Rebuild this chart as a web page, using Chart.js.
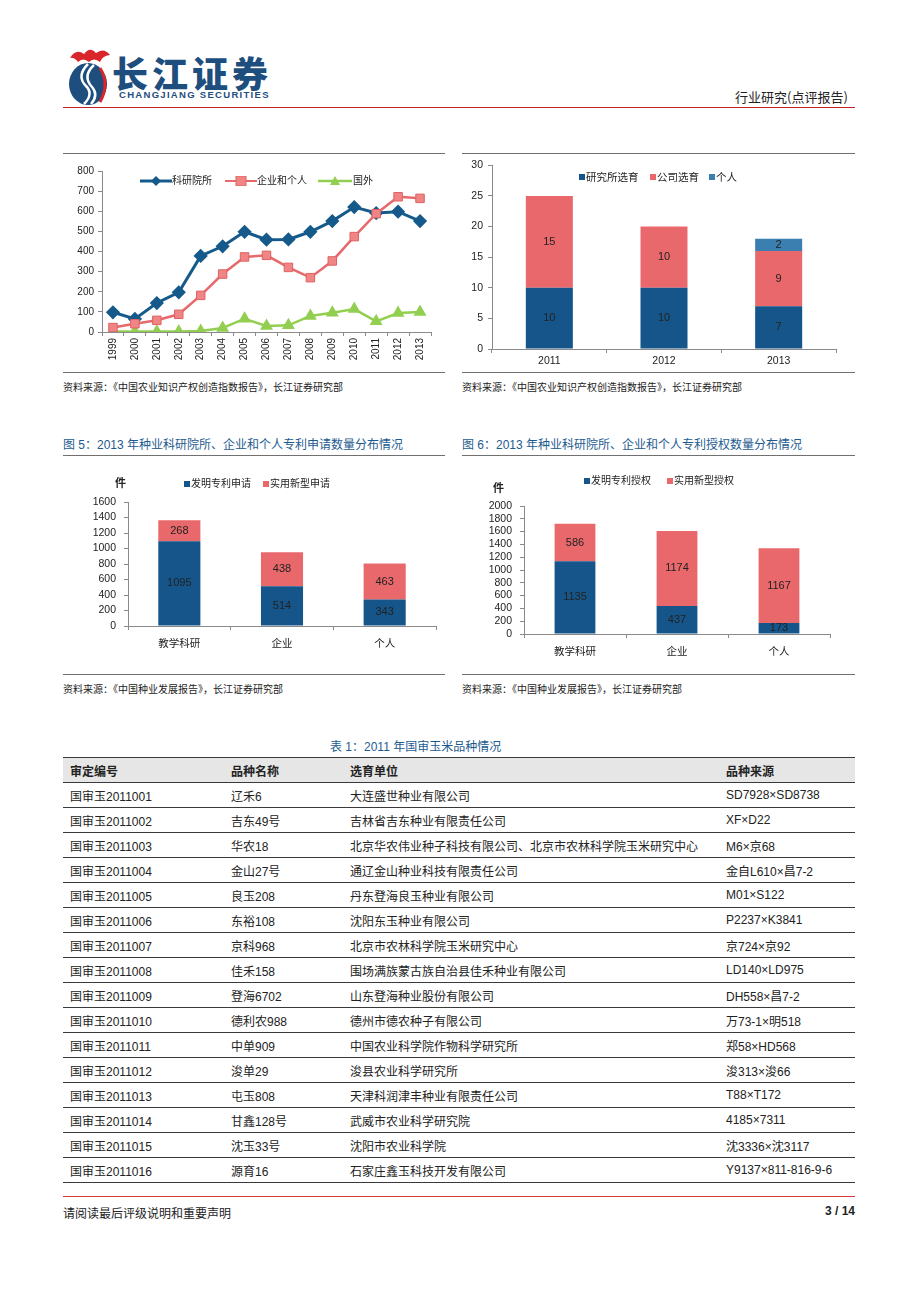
<!DOCTYPE html>
<html><head><meta charset="utf-8">
<script src="https://cdn.jsdelivr.net/npm/chart.js@4.4.0/dist/chart.umd.min.js"></script>
<style>
body{margin:0;width:920px;height:1302px;background:#fff;position:relative;overflow:hidden;font-family:"Liberation Sans","Noto Sans CJK SC",sans-serif;color:#222}
.abs{position:absolute;white-space:nowrap}
.rule{position:absolute;height:0;border-top:1px solid #707070}
.src{position:absolute;font-size:10px;color:#222;white-space:nowrap}
.ttl{position:absolute;font-size:12px;color:#1d5b8f;white-space:nowrap}
.lg{position:absolute;font-size:10px;color:#222;white-space:nowrap;line-height:12px}
.sq{position:absolute;width:6px;height:6px}
.cv{position:absolute}
table{border-collapse:collapse;font-size:12px;color:#222}
td{height:24px;padding:0 0 0 7px;border-bottom:1px solid #3a3a3a;white-space:nowrap}
thead td{background:#e6e6e6;font-weight:bold;border-top:1px solid #3a3a3a}
</style></head>
<body>
<!-- header -->
<svg class="abs" style="left:64px;top:46px" width="50" height="60" viewBox="0 0 50 60">
  <path d="M6 12 Q12 2 20 8 Q26 0 32 7 Q40 1 46 9 Q38 10 36 16 Q30 11 25 16 Q19 11 14 16 Q10 11 6 12Z" fill="#d8262a"/>
  <ellipse cx="24" cy="38" rx="19" ry="21" fill="#1d4e7e"/>
  <path d="M24 18 Q12 30 22 40 Q30 48 20 58" stroke="#fff" stroke-width="2.5" fill="none"/>
  <path d="M30 19 Q18 30 28 41 Q35 49 27 58" stroke="#fff" stroke-width="2.5" fill="none"/>
  <path d="M36 22 Q46 38 36 56" stroke="#d8262a" stroke-width="3" fill="none"/>
</svg>
<div class="abs" style="left:112px;top:54px;font-size:36px;line-height:36px;font-weight:900;color:#1d4e7e;letter-spacing:4px;font-family:'Noto Sans CJK SC'">长江证券</div>
<div class="abs" style="left:119px;top:90px;font-size:9.5px;line-height:10px;font-weight:bold;color:#1d4e7e;letter-spacing:1.3px">CHANGJIANG SECURITIES</div>
<div class="abs" style="left:735px;top:87px;font-size:13px;color:#222;font-family:'Noto Sans CJK SC'">行业研究(点评报告)</div>
<div class="abs" style="left:63px;top:107px;width:792px;height:1px;background:#c41f22"></div>

<!-- top charts frame -->
<div class="rule" style="left:63px;top:153px;width:382px"></div>
<div class="rule" style="left:462px;top:153px;width:393px"></div>
<div class="rule" style="left:63px;top:372px;width:382px"></div>
<div class="rule" style="left:462px;top:372px;width:393px"></div>
<div class="src" style="left:63px;top:379px">资料来源：《中国农业知识产权创造指数报告》，长江证券研究部</div>
<div class="src" style="left:462px;top:379px">资料来源：《中国农业知识产权创造指数报告》，长江证券研究部</div>

<canvas id="c1" class="cv" style="left:63px;top:155px" width="382" height="215"></canvas>
<canvas id="c2" class="cv" style="left:462px;top:155px" width="393" height="215"></canvas>

<!-- chart1 legend -->
<svg class="abs" style="left:140px;top:176px" width="32" height="10"><line x1="0" y1="5" x2="32" y2="5" stroke="#155a8a" stroke-width="3"/><path d="M16 0 L21 5 L16 10 L11 5Z" fill="#155a8a"/></svg>
<div class="lg" style="left:172px;top:175px">科研院所</div>
<svg class="abs" style="left:225px;top:176px" width="32" height="10"><line x1="0" y1="5" x2="32" y2="5" stroke="#e8696b" stroke-width="2"/><rect x="11" y="0" width="10" height="10" fill="#ef8585" stroke="#e06262"/></svg>
<div class="lg" style="left:257px;top:175px">企业和个人</div>
<svg class="abs" style="left:318px;top:176px" width="34" height="10"><line x1="0" y1="5" x2="34" y2="5" stroke="#92cf50" stroke-width="2.5"/><path d="M17 0 L22 9 L12 9Z" fill="#92cf50"/></svg>
<div class="lg" style="left:353px;top:175px">国外</div>

<!-- chart2 legend -->
<div class="sq" style="left:579px;top:174px;background:#15558a"></div>
<div class="lg" style="left:586px;top:171px;font-size:10.5px">研究所选育</div>
<div class="sq" style="left:650px;top:174px;background:#e9686b"></div>
<div class="lg" style="left:657px;top:171px;font-size:10.5px">公司选育</div>
<div class="sq" style="left:709px;top:174px;background:#3b7fb0"></div>
<div class="lg" style="left:716px;top:171px;font-size:10.5px">个人</div>

<!-- middle charts -->
<div class="ttl" style="left:63px;top:435px">图 5：2013 年种业科研院所、企业和个人专利申请数量分布情况</div>
<div class="ttl" style="left:462px;top:435px">图 6：2013 年种业科研院所、企业和个人专利授权数量分布情况</div>
<div class="rule" style="left:63px;top:455px;width:382px"></div>
<div class="rule" style="left:462px;top:455px;width:393px"></div>
<div class="rule" style="left:63px;top:674px;width:382px"></div>
<div class="rule" style="left:462px;top:674px;width:393px"></div>
<div class="src" style="left:63px;top:681px">资料来源：《中国种业发展报告》，长江证券研究部</div>
<div class="src" style="left:462px;top:681px">资料来源：《中国种业发展报告》，长江证券研究部</div>

<canvas id="c3" class="cv" style="left:63px;top:457px" width="382" height="215"></canvas>
<canvas id="c4" class="cv" style="left:462px;top:457px" width="393" height="215"></canvas>

<div class="lg" style="left:115px;top:477px;font-weight:bold;font-size:11px">件</div>
<div class="sq" style="left:184px;top:481px;background:#15558a"></div>
<div class="lg" style="left:191px;top:478px">发明专利申请</div>
<div class="sq" style="left:263px;top:481px;background:#e9686b"></div>
<div class="lg" style="left:270px;top:478px">实用新型申请</div>

<div class="lg" style="left:493px;top:482px;font-weight:bold;font-size:11px">件</div>
<div class="sq" style="left:584px;top:478px;background:#15558a"></div>
<div class="lg" style="left:591px;top:475px">发明专利授权</div>
<div class="sq" style="left:667px;top:478px;background:#e9686b"></div>
<div class="lg" style="left:674px;top:475px">实用新型授权</div>

<!-- table -->
<div class="ttl" style="left:330px;top:737px">表 1：2011 年国审玉米品种情况</div>
<div class="abs" style="left:63px;top:757px;width:792px">
<table id="tbl" style="width:792px"><thead><tr><td style="width:154px">审定编号</td><td style="width:112px">品种名称</td><td style="width:369px">选育单位</td><td>品种来源</td></tr></thead><tbody></tbody></table>
</div>

<!-- footer -->
<div class="abs" style="left:63px;top:1196px;width:792px;height:1px;background:#d23a3a"></div>
<div class="abs" style="left:63px;top:1204px;font-size:12px;font-family:'Noto Sans CJK SC'">请阅读最后评级说明和重要声明</div>
<div class="abs" style="left:800px;top:1204px;width:55px;text-align:right;font-size:12px;font-weight:bold">3 / 14</div>

<script>
// ---------- data ----------
const years1 = ['1999','2000','2001','2002','2003','2004','2005','2006','2007','2008','2009','2010','2011','2012','2013'];
const keyanyuansuo = [98,65,144,197,378,426,498,459,460,498,551,621,591,598,551];
const qiyeGeren    = [22,41,58,88,182,288,373,381,321,270,353,474,588,672,664];
const guowai       = [2,2,2,2,5,20,66,30,33,80,96,114,53,94,99];

const years2 = ['2011','2012','2013'];
const yanjiusuoXuanyu = [10,10,7];
const gongsiXuanyu    = [15,10,9];
const gerenXuanyu     = [null,null,2];

const cats3 = ['教学科研','企业','个人'];
const famingShenqing = [1095,514,343];
const shiyongShenqing = [268,438,463];

const cats4 = ['教学科研','企业','个人'];
const famingShouquan = [1135,437,173];
const shiyongShouquan = [586,1174,1167];

const tblCodes = ['国审玉2011001','国审玉2011002','国审玉2011003','国审玉2011004','国审玉2011005','国审玉2011006','国审玉2011007','国审玉2011008','国审玉2011009','国审玉2011010','国审玉2011011','国审玉2011012','国审玉2011013','国审玉2011014','国审玉2011015','国审玉2011016'];
const tblNames = ['辽禾6','吉东49号','华农18','金山27号','良玉208','东裕108','京科968','佳禾158','登海6702','德利农988','中单909','浚单29','屯玉808','甘鑫128号','沈玉33号','源育16'];
const tblUnits = ['大连盛世种业有限公司','吉林省吉东种业有限责任公司','北京华农伟业种子科技有限公司、北京市农林科学院玉米研究中心','通辽金山种业科技有限责任公司','丹东登海良玉种业有限公司','沈阳东玉种业有限公司','北京市农林科学院玉米研究中心','围场满族蒙古族自治县佳禾种业有限公司','山东登海种业股份有限公司','德州市德农种子有限公司','中国农业科学院作物科学研究所','浚县农业科学研究所','天津科润津丰种业有限责任公司','武威市农业科学研究院','沈阳市农业科学院','石家庄鑫玉科技开发有限公司'];
const tblSources = ['SD7928×SD8738','XF×D22','M6×京68','金自L610×昌7-2','M01×S122','P2237×K3841','京724×京92','LD140×LD975','DH558×昌7-2','万73-1×明518','郑58×HD568','浚313×浚66','T88×T172','4185×7311','沈3336×沈3117','Y9137×811-816-9-6'];

// table
const tb = document.querySelector('#tbl tbody');
tblCodes.forEach((c,i)=>{
  const tr = document.createElement('tr');
  [c, tblNames[i], tblUnits[i], tblSources[i]].forEach(t=>{const td=document.createElement('td');td.textContent=t;tr.appendChild(td);});
  tb.appendChild(tr);
});

// ---------- charts ----------
const FONT = '"Liberation Sans","Noto Sans CJK SC",sans-serif';
Chart.defaults.font.family = FONT;
Chart.defaults.color = '#222';
Chart.defaults.animation = false;

const barLabels = {
  id:'barLabels',
  afterDatasetsDraw(chart, args, opts){
    if(!opts || !opts.show) return;
    const ctx = chart.ctx;
    ctx.save();
    ctx.font = (opts.size||11) + 'px ' + FONT;
    ctx.fillStyle = '#222';
    ctx.textAlign='center'; ctx.textBaseline='middle';
    chart.data.datasets.forEach((ds,i)=>{
      const meta = chart.getDatasetMeta(i);
      meta.data.forEach((el,j)=>{
        const v = ds.data[j];
        if(v==null) return;
        const p = el.getProps(['x','y','base'], true);
        ctx.fillText(String(v), p.x, (p.y+p.base)/2);
      });
    });
    ctx.restore();
  }
};
Chart.register(barLabels);

const AX = '#8a8a8a';
function yScale(max, step, width, pad, size){
  return {min:0,max:max,ticks:{stepSize:step,autoSkip:false,font:{size:size,lineHeight:1},color:'#222',padding:pad,callback:v=>String(v)},
    grid:{drawOnChartArea:false,tickLength:4,color:AX},border:{color:AX},
    afterFit(s){s.width=width;}};
}
function xScale(height, pad, size, stacked){
  return {stacked:!!stacked, offset:true, ticks:{font:{size:size},color:'#222',padding:pad,autoSkip:false,maxRotation:0},
    grid:{drawOnChartArea:false,offset:true,tickLength:4,color:AX},border:{color:AX},
    afterFit(s){s.height=height;}};
}

// chart 1
const x1 = xScale(38, 2, 10);
x1.ticks.minRotation = 90; x1.ticks.maxRotation = 90;
new Chart(document.getElementById('c1'), {
  type:'line',
  data:{labels:years1, datasets:[
    {label:'科研院所', data:keyanyuansuo, borderColor:'#155a8a', backgroundColor:'#155a8a', borderWidth:3,
     pointStyle:'rectRot', pointRadius:5, pointBackgroundColor:'#155a8a', pointBorderColor:'#155a8a', tension:0, order:2},
    {label:'企业和个人', data:qiyeGeren, borderColor:'#e8696b', backgroundColor:'#ef8585', borderWidth:2.5,
     pointStyle:'rect', pointRadius:6, pointBackgroundColor:'#ef8585', pointBorderColor:'#e06262', pointBorderWidth:1, tension:0, order:1},
    {label:'国外', data:guowai, borderColor:'#92cf50', backgroundColor:'#92cf50', borderWidth:2.5,
     pointStyle:'triangle', pointRadius:5, pointBackgroundColor:'#92cf50', pointBorderColor:'#92cf50', tension:0, order:3}
  ]},
  options:{responsive:false, layout:{padding:{top:16,right:14,left:0,bottom:0}},
    plugins:{legend:{display:false},tooltip:{enabled:false}},
    scales:{x:x1, y:yScale(800,100,39,4,10)}}
});

// chart 2
new Chart(document.getElementById('c2'), {
  type:'bar',
  data:{labels:years2, datasets:[
    {label:'研究所选育', data:yanjiusuoXuanyu, backgroundColor:'#15558a'},
    {label:'公司选育', data:gongsiXuanyu, backgroundColor:'#e9686b'},
    {label:'个人', data:gerenXuanyu, backgroundColor:'#3b7fb0'}
  ]},
  options:{responsive:false, layout:{padding:{top:9,right:19,left:0,bottom:0}},
    datasets:{bar:{barPercentage:0.41,categoryPercentage:1}},
    plugins:{legend:{display:false},tooltip:{enabled:false},barLabels:{show:true,size:11}},
    scales:{x:xScale(21,2,10.5,true), y:Object.assign(yScale(30,5,30,5,10.5),{stacked:true})}}
});

// chart 3
new Chart(document.getElementById('c3'), {
  type:'bar',
  data:{labels:cats3, datasets:[
    {label:'发明专利申请', data:famingShenqing, backgroundColor:'#15558a'},
    {label:'实用新型申请', data:shiyongShenqing, backgroundColor:'#e9686b'}
  ]},
  options:{responsive:false, layout:{padding:{top:45,right:9,left:0,bottom:0}},
    datasets:{bar:{barPercentage:0.41,categoryPercentage:1}},
    plugins:{legend:{display:false},tooltip:{enabled:false},barLabels:{show:true,size:11}},
    scales:{x:xScale(46,8,10.5,true), y:Object.assign(yScale(1600,200,65,8,10.5),{stacked:true})}}
});

// chart 4
new Chart(document.getElementById('c4'), {
  type:'bar',
  data:{labels:cats4, datasets:[
    {label:'发明专利授权', data:famingShouquan, backgroundColor:'#15558a'},
    {label:'实用新型授权', data:shiyongShouquan, backgroundColor:'#e9686b'}
  ]},
  options:{responsive:false, layout:{padding:{top:49,right:25,left:0,bottom:0}},
    datasets:{bar:{barPercentage:0.40,categoryPercentage:1}},
    plugins:{legend:{display:false},tooltip:{enabled:false},barLabels:{show:true,size:11}},
    scales:{x:xScale(38,8,10.5,true), y:Object.assign(yScale(2000,200,62,8,10.5),{stacked:true})}}
});
</script>
</body></html>
